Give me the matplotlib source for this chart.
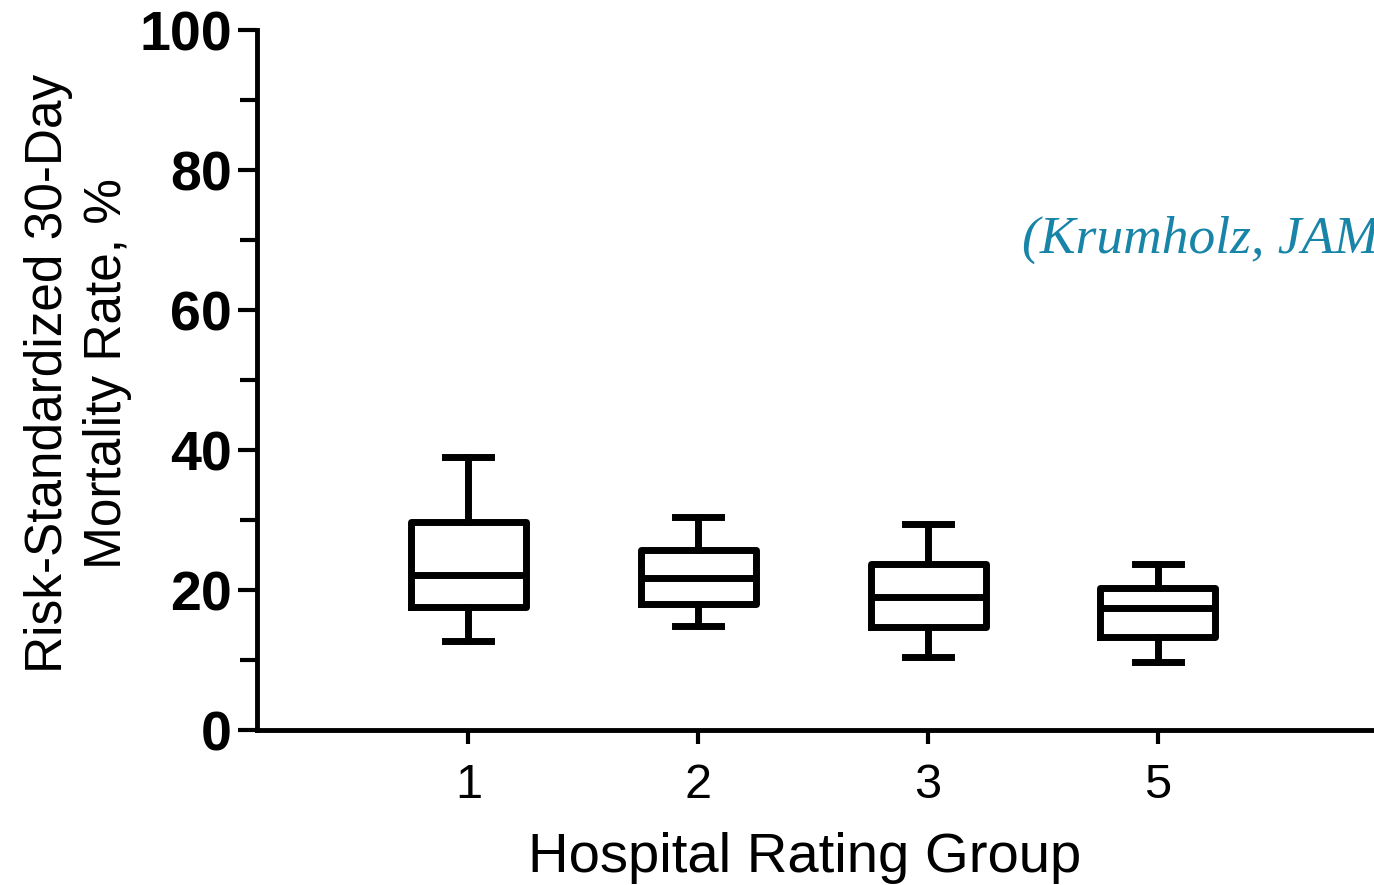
import matplotlib.pyplot as plt
import matplotlib.ticker as mticker

groups = ["1", "2", "3", "5"]
whisker_low = [12.7, 14.9, 10.4, 9.7]
q1 = [17.6, 18.0, 14.7, 13.3]
median = [22.1, 21.7, 19.0, 17.4]
q3 = [29.7, 25.7, 23.7, 20.3]
whisker_high = [39.0, 30.4, 29.4, 23.7]

stats = []
for i in range(len(groups)):
    stats.append({"label": groups[i], "whislo": whisker_low[i], "q1": q1[i],
                  "med": median[i], "q3": q3[i], "whishi": whisker_high[i],
                  "fliers": []})

plt.rcParams['font.family'] = ['Liberation Sans', 'DejaVu Sans']

fig = plt.figure(figsize=(13.74, 8.85), dpi=100)
ax = fig.add_axes([0.187, 0.175, 0.813, 0.791])

lw = 5
ax.bxp(stats, positions=[1, 2, 3, 4], widths=0.5, capwidths=0.2, showfliers=False,
       boxprops=dict(color="black", linewidth=lw),
       medianprops=dict(color="black", linewidth=lw),
       whiskerprops=dict(color="black", linewidth=lw),
       capprops=dict(color="black", linewidth=lw))

ax.set_xlim(0.08, 4.94)
ax.set_ylim(0, 100)
ax.set_yticks([0, 20, 40, 60, 80, 100])
ax.yaxis.set_minor_locator(mticker.MultipleLocator(10))
ax.set_xticks([1, 2, 3, 4])
ax.set_xticklabels(groups)

for s in ["top", "right"]:
    ax.spines[s].set_visible(False)
for s in ["left", "bottom"]:
    ax.spines[s].set_linewidth(3.5)

ax.tick_params(axis="y", which="major", length=14, width=3, labelsize=40, pad=4)
ax.tick_params(axis="y", which="minor", length=12, width=3)
ax.tick_params(axis="x", length=10, width=3, labelsize=35, pad=14)
for t in ax.get_yticklabels():
    t.set_fontweight("bold")

ax.set_ylabel("Risk-Standardized 30-Day\nMortality Rate, %", fontsize=37,
              linespacing=1.25)
ax.yaxis.set_label_coords(-0.112, 0.51)
ax.set_xlabel("Hospital Rating Group", fontsize=40.5)
ax.xaxis.set_label_coords(0.49, -0.145)

# citation, cut off at the right edge as in the source image
fig.text(0.744, 0.714, "(Krumholz, JAMA)", fontsize=38.5, color="#1784a8",
         family="Liberation Serif", style="italic")

fig.savefig("out.png", dpi=100)
